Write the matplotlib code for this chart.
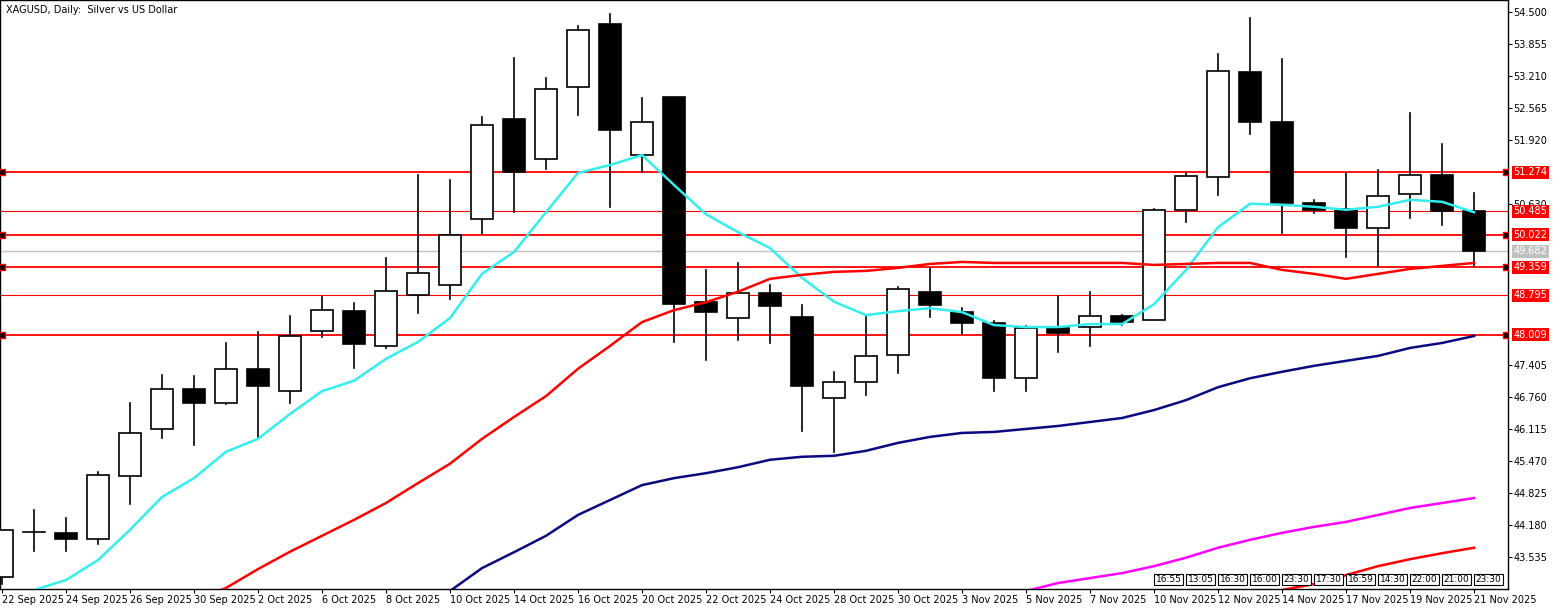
import matplotlib
matplotlib.use("Agg")
import matplotlib.pyplot as plt
import numpy as np
from matplotlib.patches import Rectangle

# ---- datos ----
dates = ["22 Sep 2025", "24 Sep 2025", "26 Sep 2025", "30 Sep 2025", "2 Oct 2025", "6 Oct 2025",
         "8 Oct 2025", "10 Oct 2025", "14 Oct 2025", "16 Oct 2025", "20 Oct 2025", "22 Oct 2025",
         "24 Oct 2025", "28 Oct 2025", "30 Oct 2025", "3 Nov 2025", "5 Nov 2025", "7 Nov 2025",
         "10 Nov 2025", "12 Nov 2025", "14 Nov 2025", "17 Nov 2025", "19 Nov 2025", "21 Nov 2025"]

opens = [43.13, 44.04, 44.02, 43.90, 45.16, 46.11, 46.91, 46.63, 47.32, 46.87, 48.08, 48.48,
         47.78, 48.81, 49.01, 50.34, 52.35, 51.54, 52.99, 54.26, 51.62, 52.79, 48.67, 48.34,
         48.85, 48.36, 46.73, 47.06, 47.60, 48.87, 48.46, 48.24, 47.14, 48.14, 48.16, 48.38,
         48.30, 50.52, 51.18, 53.29, 52.29, 50.66, 50.54, 50.15, 50.84, 51.22, 50.485]
highs = [44.08, 44.48, 44.32, 45.25, 46.63, 47.20, 47.18, 47.84, 48.06, 48.38, 48.77, 48.65,
         49.55, 51.22, 51.12, 52.39, 53.57, 53.17, 54.22, 54.46, 52.77, 52.79, 49.31, 49.45,
         49.01, 48.61, 47.26, 48.40, 48.97, 49.35, 48.54, 48.28, 48.18, 48.79, 48.87, 48.40,
         50.54, 51.26, 53.66, 54.38, 53.55, 50.72, 51.26, 51.32, 52.47, 51.84, 50.86]
lows = [43.00, 43.66, 43.66, 43.80, 44.60, 45.93, 45.79, 46.61, 45.95, 46.63, 47.96, 47.34,
        47.74, 48.44, 48.73, 50.03, 50.48, 51.34, 52.43, 50.58, 51.28, 47.86, 47.50, 47.90,
        47.84, 46.07, 45.65, 46.79, 47.24, 48.36, 48.02, 46.87, 46.87, 47.66, 47.78, 48.20,
        48.30, 50.27, 50.82, 52.05, 50.05, 50.46, 49.57, 49.39, 50.36, 50.21, 49.39]
closes = [44.08, 44.05, 43.90, 45.18, 46.03, 46.91, 46.63, 47.32, 46.98, 47.98, 48.50, 47.82,
          48.89, 49.25, 50.01, 52.23, 51.28, 52.95, 54.14, 52.13, 52.29, 48.63, 48.46, 48.85,
          48.58, 46.98, 47.06, 47.58, 48.93, 48.61, 48.24, 47.14, 48.14, 48.04, 48.38, 48.26,
          50.52, 51.20, 53.31, 52.29, 50.66, 50.52, 50.15, 50.80, 51.22, 50.50, 49.682]

# medias moviles (indice inicial, valores)
ma_cyan_start = 0
ma_cyan = [42.67, 42.87, 43.07, 43.47, 44.08, 44.74, 45.12, 45.65, 45.91, 46.41, 46.87, 47.08,
           47.52, 47.86, 48.34, 49.23, 49.67, 50.47, 51.26, 51.42, 51.62, 51.02, 50.43, 50.07,
           49.75, 49.15, 48.67, 48.40, 48.48, 48.54, 48.46, 48.20, 48.16, 48.16, 48.22, 48.22,
           48.62, 49.31, 50.17, 50.64, 50.62, 50.58, 50.52, 50.58, 50.72, 50.68, 50.47]
ma_red_start = 6
ma_red = [42.67, 42.91, 43.29, 43.64, 43.96, 44.28, 44.62, 45.02, 45.41, 45.91, 46.35, 46.77,
          47.32, 47.78, 48.26, 48.50, 48.66, 48.87, 49.13, 49.21, 49.27, 49.29, 49.35, 49.43,
          49.47, 49.45, 49.45, 49.45, 49.45, 49.45, 49.41, 49.43, 49.45, 49.45, 49.31, 49.23,
          49.13, 49.23, 49.33, 49.39, 49.45]
ma_navy_start = 14
ma_navy = [42.85, 43.31, 43.63, 43.96, 44.38, 44.68, 44.98, 45.12, 45.22, 45.34, 45.49, 45.55,
           45.57, 45.67, 45.83, 45.95, 46.03, 46.05, 46.11, 46.17, 46.25, 46.33, 46.49, 46.69,
           46.95, 47.13, 47.26, 47.38, 47.48, 47.58, 47.74, 47.84, 47.98]
ma_mag_start = 32
ma_mag = [42.85, 43.01, 43.11, 43.21, 43.35, 43.52, 43.72, 43.88, 44.02, 44.14, 44.24, 44.38,
          44.52, 44.62, 44.72]
ma_red2_start = 40
ma_red2 = [42.87, 42.99, 43.17, 43.35, 43.49, 43.61, 43.72]

# niveles horizontales
levels_thick = [51.274, 50.022, 49.359, 48.009]
levels_thin = [50.485, 48.795]
bid_level = 49.682

yticks = [54.500, 53.855, 53.210, 52.565, 51.920, 50.630, 47.405, 46.760, 46.115, 45.470,
          44.825, 44.180, 43.535]
time_boxes = ["16:55", "13:05", "16:30", "16:00", "23:30", "17:30", "16:59", "14:30", "22:00",
              "21:00", "23:30"]

# ---- grafico ----
fig = plt.figure(figsize=(15.63, 6.09), dpi=100)
ax = fig.add_axes([0.0, 20 / 609, 1508 / 1563, 589 / 609])
ax.set_xlim(-0.06, 47.06)
ax.set_ylim(42.89, 54.74)

w = 0.7
for i in range(len(opens)):
    o, h, l, c = opens[i], highs[i], lows[i], closes[i]
    top, bot = max(o, c), min(o, c)
    ax.plot([i, i], [top, h], color='black', lw=1.2, zorder=3)
    ax.plot([i, i], [l, bot], color='black', lw=1.2, zorder=3)
    if abs(c - o) < 0.02:
        ax.plot([i - w / 2, i + w / 2], [o, o], color='black', lw=1.2, zorder=3)
    else:
        ax.add_patch(Rectangle((i - w / 2, bot), w, top - bot, facecolor='black' if c < o else 'white',
                               edgecolor='black', lw=1.2, zorder=3))

for start, vals, col in [(ma_cyan_start, ma_cyan, '#33eeee'), (ma_red_start, ma_red, 'red'),
                         (ma_navy_start, ma_navy, '#0a0a80'), (ma_mag_start, ma_mag, '#ff00ff'),
                         (ma_red2_start, ma_red2, 'red')]:
    ax.plot(np.arange(start, start + len(vals)), vals, color=col, lw=1.8, zorder=4)

for lv in levels_thick:
    ax.axhline(lv, color='red', lw=1.3, zorder=2)
    ax.plot([0.0, 47.0], [lv, lv], ls='none', marker='s', ms=4, mfc='black', mec='red', zorder=5)
    ax.annotate(f"{lv:.3f}", (1.0, lv), xycoords=('axes fraction', 'data'), xytext=(4, 0),
                textcoords='offset points', va='center', ha='left', fontsize=7, color='white',
                bbox=dict(boxstyle='square,pad=0.15', fc='red', ec='none'), annotation_clip=False)
for lv in levels_thin:
    ax.axhline(lv, color='red', lw=0.8, zorder=2)
    ax.annotate(f"{lv:.3f}", (1.0, lv), xycoords=('axes fraction', 'data'), xytext=(4, 0),
                textcoords='offset points', va='center', ha='left', fontsize=7, color='white',
                bbox=dict(boxstyle='square,pad=0.15', fc='red', ec='none'), annotation_clip=False)
ax.axhline(bid_level, color='#c0c0c0', lw=1.0, zorder=2)
ax.annotate(f"{bid_level:.3f}", (1.0, bid_level), xycoords=('axes fraction', 'data'), xytext=(4, 0),
            textcoords='offset points', va='center', ha='left', fontsize=7, color='white',
            bbox=dict(boxstyle='square,pad=0.15', fc='#c0c0c0', ec='none'), annotation_clip=False)

ax.yaxis.tick_right()
ax.set_yticks(yticks)
ax.set_yticklabels([f"{t:.3f}" for t in yticks], fontsize=7)
ax.tick_params(axis='y', direction='out', length=3, pad=1)
ax.set_xticks(np.arange(0, 47, 2))
ax.set_xticklabels(dates, fontsize=7, ha='left')
ax.tick_params(axis='x', direction='out', length=3, pad=1)
for s in ax.spines.values():
    s.set_linewidth(1.0)

for k, t in enumerate(time_boxes):
    ax.text(36.45 + k, 43.08, t, fontsize=6.5, ha='center', va='center', zorder=6,
            bbox=dict(boxstyle='square,pad=0.15', fc='white', ec='black', lw=0.8))

ax.text(0.004, 0.992, "XAGUSD, Daily:  Silver vs US Dollar", transform=ax.transAxes,
        fontsize=7, va='top', ha='left')

fig.savefig("out.png", dpi=100)
